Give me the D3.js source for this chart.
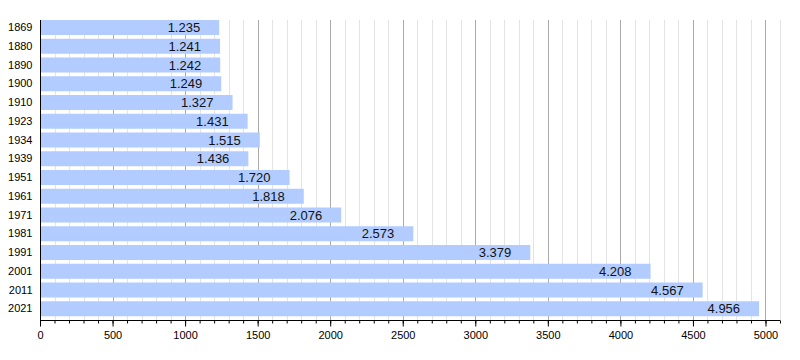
<!DOCTYPE html>
<html>
<head>
<meta charset="utf-8">
<script src="https://cdn.jsdelivr.net/npm/d3@7"></script>
<style>
body { margin: 0; background: #fff; }
svg { display: block; font-family: "Liberation Sans", Arial, sans-serif; }
</style>
</head>
<body>
<script>
var years = ['1869', '1880', '1890', '1900', '1910', '1923', '1934', '1939', '1951', '1961', '1971', '1981', '1991', '2001', '2011', '2021']
var population = [1235, 1241, 1242, 1249, 1327, 1431, 1515, 1436, 1720, 1818, 2076, 2573, 3379, 4208, 4567, 4956]
var xTicks = [0, 500, 1000, 1500, 2000, 2500, 3000, 3500, 4000, 4500, 5000]

var width = 800
var height = 360
var plotLeft = 40, plotRight = 780, plotTop = 20, plotBottom = 320

var x = d3.scaleLinear()
    .domain([0, 5100])
    .range([plotLeft, plotRight])

var y = d3.scaleBand()
    .domain(years)
    .range([plotTop, plotBottom])
    .paddingInner(0.2)
    .paddingOuter(0.1)
    .align(0)

var fmt = function(v) {
    return (v / 1000).toFixed(3)
}

var svg = d3.select('body').append('svg')
    .attr('width', width)
    .attr('height', height)

// grid lines, every 100, darker every 500
var minor = d3.range(100, 5101, 100)
svg.append('g')
    .attr('class', 'grid')
    .selectAll('line')
    .data(minor)
    .enter().append('line')
    .attr('x1', function(d) { return Math.round(x(d)) + 0.5 })
    .attr('x2', function(d) { return Math.round(x(d)) + 0.5 })
    .attr('y1', plotTop)
    .attr('y2', plotBottom)
    .style('stroke', function(d) { return d % 500 === 0 ? '#aaaaaa' : '#e4e4e4' })
    .style('stroke-width', 1)

svg.append('g')
    .attr('class', 'bars')
    .selectAll('rect')
    .data(population)
    .enter().append('rect')
    .attr('x', x(0) + 1)
    .attr('y', function(d, i) { return y(years[i]) })
    .attr('width', function(d) { return x(d) - x(0) - 1 })
    .attr('height', y.bandwidth())
    .style('fill', '#b3ccff')

svg.append('g')
    .attr('class', 'labels')
    .selectAll('text')
    .data(population)
    .enter().append('text')
    .attr('x', function(d) { return x(d) - 19 })
    .attr('y', function(d, i) { return y(years[i]) + y.bandwidth() / 2 })
    .attr('dy', '0.36em')
    .attr('text-anchor', 'end')
    .style('font-size', '13px')
    .style('fill', '#111')
    .text(fmt)

// left axis
svg.append('g')
    .attr('transform', 'translate(' + (plotLeft + 0.5) + ',0)')
    .call(d3.axisLeft(y).tickSize(0).tickPadding(8))
    .call(function(g) {
        g.select('.domain').attr('d', 'M0,' + plotTop + 'V' + plotBottom).style('stroke', '#000')
        g.selectAll('text').style('font-size', '11px').style('fill', '#000')
    })

// bottom axis, minor ticks then major ticks
var bottomG = svg.append('g')
    .attr('transform', 'translate(0,' + (plotBottom + 0.5) + ')')

bottomG.append('g')
    .call(d3.axisBottom(x).tickValues(minor).tickSize(3).tickFormat(''))
    .call(function(g) { g.select('.domain').remove() })

bottomG.append('g')
    .call(d3.axisBottom(x).tickValues(xTicks).tickSize(6).tickPadding(5).tickFormat(d3.format('d')))
    .call(function(g) {
        g.select('.domain').attr('d', 'M' + plotLeft + ',0H' + plotRight).style('stroke', '#000')
        g.selectAll('text').style('font-size', '11px').style('fill', '#000')
    })
</script>
</body>
</html>
